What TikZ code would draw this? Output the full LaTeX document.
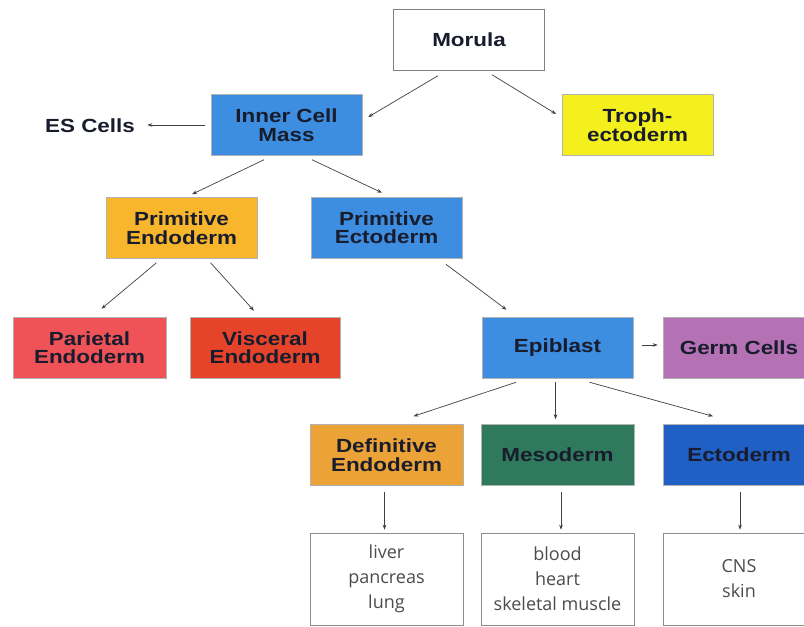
\documentclass[tikz,border=0pt]{standalone}
\usepackage{fontspec}
\usetikzlibrary{arrows.meta}
\newfontfamily\boitefont{Liberation Sans Bold}[FakeStretch=1.18]
\newfontfamily\tissufont{Open Sans}
\definecolor{encre}{RGB}{24,28,44}
\definecolor{bleuMasse}{RGB}{61,141,224}
\definecolor{jauneTroph}{RGB}{244,240,30}
\definecolor{orangeEndo}{RGB}{247,182,44}
\definecolor{roseParietal}{RGB}{239,83,88}
\definecolor{rougeVisceral}{RGB}{229,67,42}
\definecolor{violetGerm}{RGB}{180,114,180}
\definecolor{orangeDef}{RGB}{235,162,54}
\definecolor{vertMeso}{RGB}{47,122,92}
\definecolor{bleuEcto}{RGB}{32,96,196}
\begin{document}
\begin{tikzpicture}[x=1pt,y=-1pt]
\tikzset{
	boite/.style={rectangle, minimum width=151pt, minimum height=61pt, inner sep=0pt,
		align=center, draw=black!30, line width=0.5pt, text=encre,
		font=\boitefont\fontsize{19}{18.5}\selectfont},
	tissu/.style={rectangle, minimum width=153pt, minimum height=92pt, inner sep=0pt,
		align=center, draw=black!45, line width=0.6pt, fill=white, text=black!70,
		font=\tissufont\fontsize{18}{25}\selectfont},
	fleche/.style={draw=black!75, line width=0.7pt, -{Stealth[length=5pt,width=3.6pt]}}
}
  \clip (0,0) rectangle (804,627);
  \fill[white] (0,0) rectangle (804,627);

  % les boites
  \node[boite, fill=white, draw=black!50] (morula) at (469,40) {Morula};
  \node[boite, fill=bleuMasse] (icm) at (286.5,125) {Inner Cell\\Mass};
  \node[boite, fill=jauneTroph] (troph) at (637.5,125) {Troph-\\ectoderm};
  \node[text=encre, font=\boitefont\fontsize{19}{18.5}\selectfont] (es) at (90,126) {ES Cells};
  \node[boite, fill=orangeEndo] (primendo) at (181.5,228) {Primitive\\Endoderm};
  \node[boite, fill=bleuMasse] (primecto) at (386.5,227.5) {Primitive\\Ectoderm};
  \node[boite, fill=roseParietal, minimum width=153pt] (parietal) at (89.5,347.5) {Parietal\\Endoderm};
  \node[boite, fill=rougeVisceral, minimum width=150pt] (visceral) at (265,347.5) {Visceral\\Endoderm};
  \node[boite, fill=bleuMasse] (epiblast) at (557.5,347.5) {Epiblast};
  \node[boite, fill=violetGerm, minimum width=152pt] (germ) at (739,347.5) {Germ Cells};
  \node[boite, fill=orangeDef, minimum width=153pt] (defendo) at (386.5,455) {Definitive\\Endoderm};
  \node[boite, fill=vertMeso, minimum width=153pt] (meso) at (557.5,455) {Mesoderm};
  \node[boite, fill=bleuEcto, minimum width=152pt] (ecto) at (739,455) {Ectoderm};

  % les tissus
  \node[tissu] (foie) at (386.5,579) {liver\\pancreas\\lung};
  \node[tissu] (sang) at (557.5,579) {blood\\heart\\skeletal muscle};
  \node[tissu, minimum width=152pt] (peau) at (739,579) {CNS\\skin};

  % les fleches
  \draw[fleche] ([shift={(-31,5)}]morula.south) -- ([shift={(6,-8)}]icm.east);
  \draw[fleche] ([shift={(23,4)}]morula.south) -- ([shift={(-5.6,-11)}]troph.west);
  \draw[fleche] ([xshift=-6pt]icm.west) -- ([xshift=9pt]es.east |- icm.west);
  \draw[fleche] ([shift={(-22.5,4)}]icm.south) -- ([shift={(10.5,-3)}]primendo.north);
  \draw[fleche] ([shift={(25.5,4)}]icm.south) -- ([shift={(-4.5,-4)}]primecto.north);
  \draw[fleche] ([shift={(-25,4)}]primendo.south) -- ([shift={(12,-8)}]parietal.north);
  \draw[fleche] ([shift={(29,4)}]primendo.south) -- ([shift={(-11,-6)}]visceral.north);
  \draw[fleche] ([shift={(59.5,6)}]primecto.south) -- ([shift={(-51,-7)}]epiblast.north);
  \draw[fleche] ([shift={(8.7,-2.5)}]epiblast.east) -- ([shift={(-5,-2.5)}]germ.west);
  \draw[fleche] ([shift={(-41.5,4)}]epiblast.south) -- ([shift={(27,-8)}]defendo.north);
  \draw[fleche] ([shift={(-2,4)}]epiblast.south) -- ([shift={(-2,-5)}]meso.north);
  \draw[fleche] ([shift={(32,4)}]epiblast.south) -- ([shift={(-26,-8)}]ecto.north);
  \draw[fleche] ([shift={(-2,6)}]defendo.south) -- ([shift={(-2,-3)}]foie.north);
  \draw[fleche] ([shift={(3.5,6)}]meso.south) -- ([shift={(3.5,-3)}]sang.north);
  \draw[fleche] ([shift={(1,6)}]ecto.south) -- ([shift={(1,-3)}]peau.north);
\end{tikzpicture}
\end{document}
